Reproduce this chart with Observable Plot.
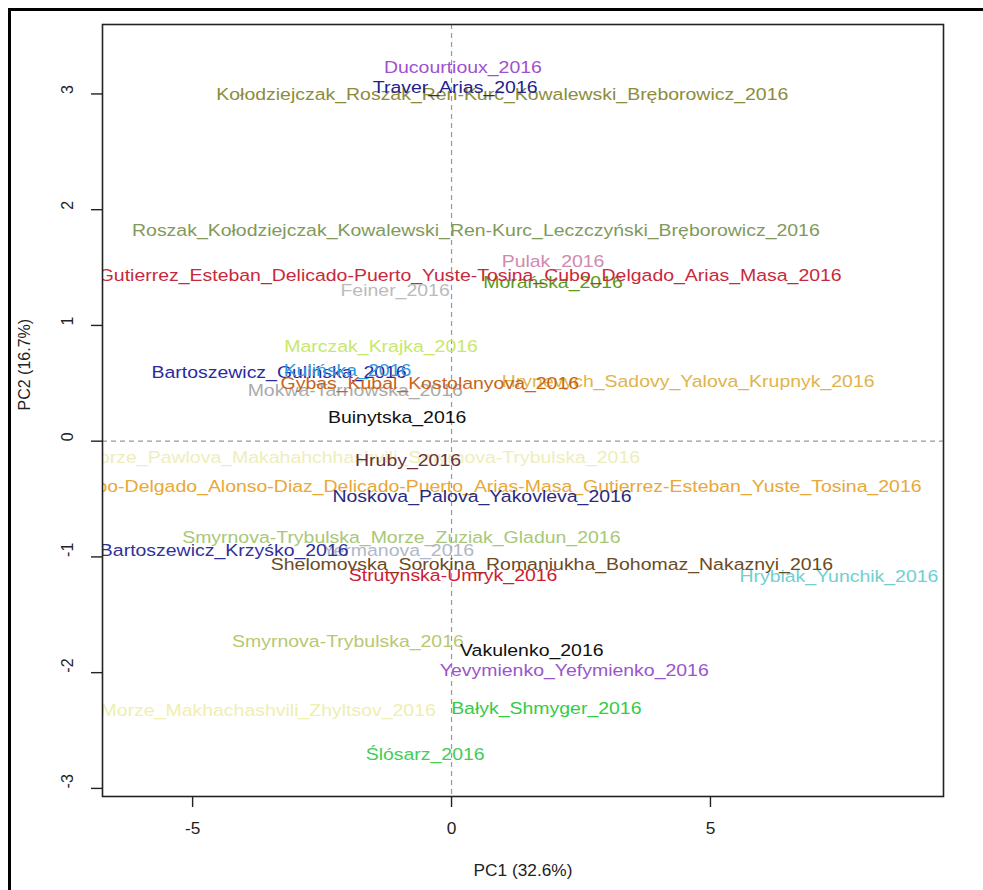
<!DOCTYPE html>
<html>
<head>
<meta charset="utf-8">
<script src="https://cdn.jsdelivr.net/npm/d3@7"></script>
<script src="https://cdn.jsdelivr.net/npm/@observablehq/plot@0.6"></script>
<style>
  html, body { margin: 0; padding: 0; background: #fff; overflow: hidden; }
  #wrap { position: relative; width: 983px; height: 890px; }
  #border { position: absolute; left: 8px; top: 8px; width: 1000px; height: 1000px;
            border-left: 3px solid #000; border-top: 3px solid #000; pointer-events: none; }
  #chart { position: absolute; left: 0; top: 0; }
</style>
</head>
<body>
<div id="wrap"><div id="chart"></div><div id="border"></div></div>
<script>
const labels = [
  "Hrybiak_Yunchik_2016",
  "Ducourtioux_2016",
  "Kołodziejczak_Roszak_Ren-Kurc_Kowalewski_Bręborowicz_2016",
  "Traver_Arias_2016",
  "Roszak_Kołodziejczak_Kowalewski_Ren-Kurc_Leczczyński_Bręborowicz_2016",
  "Pulak_2016",
  "Morańska_2016",
  "Gutierrez_Esteban_Delicado-Puerto_Yuste-Tosina_Cubo_Delgado_Arias_Masa_2016",
  "Feiner_2016",
  "Marczak_Krajka_2016",
  "Bartoszewicz_Gulińska_2016",
  "Kulińska_2016",
  "Hrynevych_Sadovy_Yalova_Krupnyk_2016",
  "Mokwa-Tarnowska_2016",
  "Gybas_Kubal_Kostolanyova_2016",
  "Buinytska_2016",
  "Morze_Pawlova_Makahahchhashvili_Smyrnova-Trybulska_2016",
  "Hruby_2016",
  "Cubo-Delgado_Alonso-Diaz_Delicado-Puerto_Arias-Masa_Gutierrez-Esteban_Yuste_Tosina_2016",
  "Noskova_Palova_Yakovleva_2016",
  "Smyrnova-Trybulska_Morze_Zuziak_Gladun_2016",
  "Yermanova_2016",
  "Bartoszewicz_Krzyśko_2016",
  "Shelomovska_Sorokina_Romaniukha_Bohomaz_Nakaznyi_2016",
  "Strutynska-Umryk_2016",
  "Smyrnova-Trybulska_2016",
  "Vakulenko_2016",
  "Yevymienko_Yefymienko_2016",
  "Morze_Makhachashvili_Zhyltsov_2016",
  "Bałyk_Shmyger_2016",
  "Ślósarz_2016"
];
const pc1 = [7.48, 0.22, 0.98, 0.07, 0.47, 1.96, 1.96, 0.36, -1.09, -1.36, -3.33, -2.01, 4.57, -1.86, -0.42, -1.05, -1.74, -0.84, 0.87, 0.59, -0.97, -1.03, -4.39, 1.94, 0.03, -2.00, 1.55, 2.37, -3.54, 1.83, -0.51];
const pc2 = [-1.17, 3.23, 2.99, 3.05, 1.82, 1.55, 1.37, 1.43, 1.30, 0.82, 0.59, 0.61, 0.51, 0.44, 0.50, 0.20, -0.14, -0.17, -0.39, -0.48, -0.83, -0.95, -0.95, -1.07, -1.16, -1.73, -1.81, -1.98, -2.33, -2.31, -2.71];
const colors = [
  "#70d0d0", "#a050d0", "#8c8c3a", "#22228f", "#7f9a5a", "#d08ab0", "#5a9a1a", "#c8283c",
  "#bbbbbb", "#c8e86a", "#2a2aa0", "#3399dd", "#e0b44a", "#aaaaaa", "#c86418", "#111111",
  "#eeeebb", "#6b3040", "#e8a838", "#2a2a80", "#a8c878", "#b0b8c8", "#30309a", "#6b4a22",
  "#cc2030", "#b8c870", "#111111", "#9a55cc", "#f0eeb0", "#33cc44", "#44cc55"
];
const xTicks = [-5, 0, 5];
const yTicks = [-3, -2, -1, 0, 1, 2, 3];
const xTitle = "PC1 (32.6%)";
const yTitle = "PC2 (16.7%)";

const points = labels.map((l, i) => ({label: l, pc1: pc1[i], pc2: pc2[i], color: colors[i]}));

const font = "'Liberation Sans', Arial, sans-serif";

const chart = Plot.plot({
  width: 983,
  height: 890,
  marginLeft: 102,
  marginRight: 40,
  marginTop: 24,
  marginBottom: 94,
  style: {fontFamily: font, background: "transparent"},
  x: {domain: [-6.74, 9.50], label: null},
  y: {domain: [-3.07, 3.60], label: null},
  color: {type: "identity"},
  marks: [
    Plot.ruleX([0], {stroke: "#999", strokeDasharray: "5,4", strokeWidth: 1.2}),
    Plot.ruleY([0], {stroke: "#999", strokeDasharray: "5,4", strokeWidth: 1.2}),
    Plot.text(points, {x: "pc1", y: "pc2", text: "label", fill: "color", fontSize: 16.5, clip: true, className: "pcalabels"}),
    Plot.frame({stroke: "#222", strokeWidth: 1.6}),
    Plot.axisX({ticks: xTicks, tickSize: 11, tickFormat: () => "", stroke: "#222", strokeWidth: 1.4}),
    Plot.axisY({ticks: yTicks, tickSize: 11, tickFormat: () => "", stroke: "#222", strokeWidth: 1.4}),
    Plot.text(xTicks, {x: d => d, frameAnchor: "bottom", dy: 32, text: d => String(d), fontSize: 16, fill: "#222", lineAnchor: "middle", className: "widetxt"}),
    Plot.text(yTicks, {y: d => d, frameAnchor: "left", dx: -35, rotate: -90, text: d => String(d), fontSize: 16, fill: "#222", lineAnchor: "middle"}),
    Plot.text([xTitle], {frameAnchor: "bottom", dy: 74, text: d => d, fontSize: 16, fill: "#222", lineAnchor: "middle", className: "widetxt"}),
    Plot.text([yTitle], {frameAnchor: "left", dx: -78, rotate: -90, text: d => d, fontSize: 16, fill: "#222", lineAnchor: "middle"})
  ]
});
// The reference's text is rendered horizontally stretched; reproduce that.
function stretch(sel, k) {
  chart.querySelectorAll(sel).forEach(t => {
    const tr = t.getAttribute("transform");
    if (tr) {
      t.setAttribute("transform", tr + ` scale(${k},1)`);
    } else {
      const x = +t.getAttribute("x") || 0, y = +t.getAttribute("y") || 0;
      t.removeAttribute("x"); t.removeAttribute("y");
      t.setAttribute("transform", `translate(${x},${y}) scale(${k},1)`);
    }
  });
}
stretch(".pcalabels text", 1.18);
stretch(".widetxt text", 1.08);
document.getElementById("chart").appendChild(chart);
</script>
</body>
</html>
